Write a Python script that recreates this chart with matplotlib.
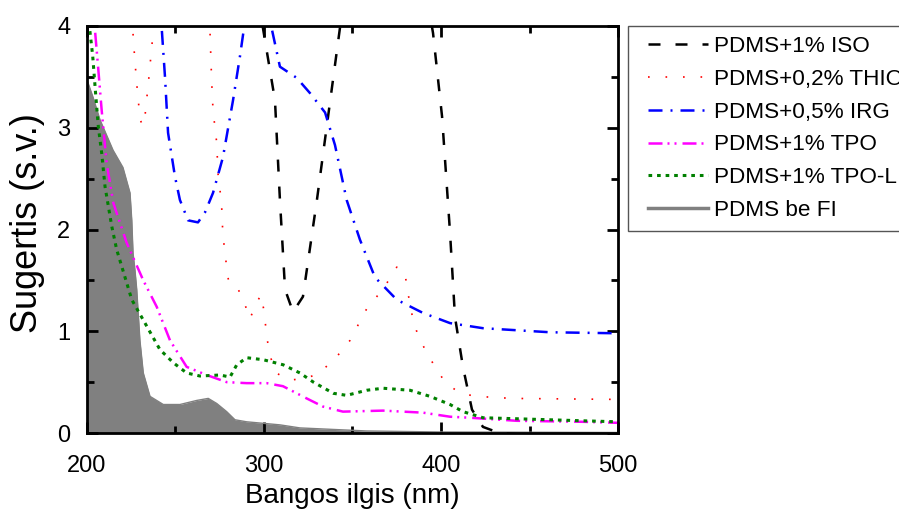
import matplotlib
matplotlib.use("Agg")
import matplotlib.pyplot as plt
from matplotlib.lines import Line2D
from matplotlib.legend_handler import HandlerLine2D

plt.rcParams["font.family"] = ["Liberation Sans", "DejaVu Sans"]

# PDMS+1% ISO
x_iso = [200, 250, 290, 297, 299.4, 306.2, 309, 311.9, 316.4, 322, 329.9, 336.2, 342.9,
         350, 370, 390, 395.5, 400.6, 405.1, 407.9, 412.4, 417.5, 423.7, 433, 450, 500]
y_iso = [6, 6, 5, 4.25, 3.98, 3.27, 2.29, 1.41, 1.19, 1.34, 2.29, 3.11, 3.98,
         4.6, 5.0, 4.5, 3.93, 3.11, 1.97, 1.14, 0.65, 0.23, 0.06, 0.0, -0.02, -0.03]

# PDMS+0,2% THIO
x_thio = [200, 220, 225.5, 226.2, 228, 230, 231.5, 232.8, 235, 237.1, 238, 245, 262, 268.5,
          269.5, 270.4, 271.2, 273.3, 274, 276, 276.8, 278, 278.9, 280.2, 285.5, 289.3, 292,
          295.3, 298.3, 300, 301, 302.1, 304, 306.8, 314.7, 324.9, 332.6, 341.1, 348.6,
          353.1, 358, 363.7, 369.3, 375, 379.7, 380.6, 382.5, 384.2, 387, 391, 396.6,
          402.3, 410.7, 420.2, 440, 500]
y_thio = [5, 5, 4.1, 3.86, 3.45, 3.08, 3.02, 3.12, 3.5, 3.89, 4.1, 5, 5, 4.1,
          3.94, 3.47, 3.17, 2.85, 2.55, 2.26, 1.93, 1.78, 1.62, 1.47, 1.41, 1.26, 1.12,
          1.26, 1.36, 1.20, 1.04, 0.89, 0.73, 0.59, 0.52, 0.54, 0.61, 0.75, 0.91,
          1.06, 1.22, 1.34, 1.47, 1.63, 1.58, 1.44, 1.27, 1.11, 0.96, 0.82, 0.65,
          0.50, 0.39, 0.36, 0.34, 0.33]

# PDMS+0,5% IRG
x_irg = [200, 235, 241, 242.2, 244.1, 245.8, 249.7, 252.5, 257.1, 262.7, 266.7, 271.2, 276.8,
         282.5, 286.4, 288.7, 291, 300, 304.3, 309, 318.5, 326, 334.5, 340.1, 346.7, 354.2,
         362.7, 375, 389.8, 405.1, 423.7, 461.6, 500]
y_irg = [6, 6, 4.3, 3.98, 3.49, 2.95, 2.52, 2.29, 2.09, 2.07, 2.17, 2.36, 2.71,
         3.27, 3.70, 3.98, 4.25, 4.5, 3.98, 3.6, 3.49, 3.34, 3.15, 2.83, 2.29, 1.90,
         1.53, 1.31, 1.18, 1.08, 1.03, 0.99, 0.98]

# PDMS+1% TPO
x_tpo = [200, 204.5, 206.4, 208.3, 211.1, 214.9, 222.4, 231.8, 239.4, 246.9, 256.3, 267.6,
         278.9, 290.2, 301.5, 310.7, 324.1, 333.3, 344.6, 367.2, 389.8, 405.1, 416.4, 442.8,
         480.2, 500]
y_tpo = [4.6, 3.96, 3.57, 3.17, 2.65, 2.26, 1.87, 1.50, 1.24, 0.91, 0.65, 0.57,
         0.50, 0.49, 0.49, 0.46, 0.34, 0.26, 0.21, 0.22, 0.20, 0.16, 0.15, 0.12,
         0.11, 0.10]

# PDMS+1% TPO-L
x_tpol = [200, 201.7, 203.2, 204.8, 206.4, 208.3, 210.2, 214, 216.8, 225.3, 231.8, 241.2,
          248.8, 256.3, 263.8, 275.1, 280.8, 284.6, 290.2, 299.6, 310.9, 320.3, 327.9, 339.2,
          346.7, 358, 367.2, 382.5, 393.8, 405.1, 412.4, 423.7, 442.8, 480.2, 500]
y_tpol = [4.2, 3.94, 3.71, 3.35, 3.01, 2.75, 2.42, 2.03, 1.80, 1.31, 1.11, 0.82,
          0.69, 0.59, 0.56, 0.57, 0.55, 0.67, 0.74, 0.72, 0.67, 0.59, 0.50, 0.39,
          0.37, 0.42, 0.44, 0.42, 0.36, 0.28, 0.21, 0.15, 0.14, 0.12, 0.11]

# PDMS be FI
x_pdms = [200, 203.4, 207.3, 214.7, 220.3, 224.3, 225.3, 226, 227.1, 228.1, 229.9, 231.8,
          235.6, 243.1, 252.5, 262, 268.5, 273.3, 278.9, 283.6, 290.2, 299.6, 309, 320.3,
          358, 400, 500]
y_pdms = [3.47, 3.30, 3.08, 2.78, 2.61, 2.36, 2.09, 1.77, 1.60, 1.41, 0.91, 0.59,
          0.36, 0.28, 0.28, 0.32, 0.34, 0.29, 0.21, 0.13, 0.11, 0.095, 0.08, 0.05,
          0.02, 0.01, 0.005]

labels = ["PDMS+1% ISO", "PDMS+0,2% THIO", "PDMS+0,5% IRG",
          "PDMS+1% TPO", "PDMS+1% TPO-L", "PDMS be FI"]

styles = [
    dict(color="black", lw=1.8, linestyle=(0, (4.8, 6))),
    dict(color="red", lw=1.2, linestyle=(0, (1, 9.5))),
    dict(color="blue", lw=1.8, linestyle=(0, (5.6, 3.2, 0.8, 3.2))),
    dict(color="magenta", lw=1.8, linestyle=(0, (5.6, 2, 0.8, 2, 0.8, 2.4))),
    dict(color="green", lw=2.2, linestyle=(0, (1.2, 1.6))),
    dict(color="#808080", lw=2.5),
]


class PaddedLine(HandlerLine2D):
    # leaves some blank space before the legend line
    def create_artists(self, legend, orig_handle, xdescent, ydescent, width, height,
                       fontsize, trans):
        pad = 0.45 * fontsize
        return super().create_artists(legend, orig_handle, xdescent - pad, ydescent,
                                      width - pad, height, fontsize, trans)


fig = plt.figure(figsize=(8.99, 5.15), dpi=100)
ax = fig.add_axes([87 / 899, 1 - 433 / 515, 531 / 899, 407 / 515])

ax.fill_between(x_pdms, y_pdms, 0, color="#808080", lw=0)
ax.plot(x_pdms, y_pdms, color="#808080", lw=1)

ax.plot(x_iso, y_iso, **styles[0])
ax.plot(x_thio, y_thio, **styles[1])
ax.plot(x_irg, y_irg, **styles[2])
ax.plot(x_tpo, y_tpo, **styles[3])
ax.plot(x_tpol, y_tpol, **styles[4])

ax.set_xlim(200, 500)
ax.set_ylim(0, 4)
ax.set_xticks([200, 300, 400, 500])
ax.set_xticks([250, 350, 450], minor=True)
ax.set_yticks([0, 1, 2, 3, 4])
ax.set_yticks([0.5, 1.5, 2.5, 3.5], minor=True)
ax.tick_params(which="both", direction="in", top=True, right=True, width=2,
               labelsize=17)
ax.tick_params(axis="x", pad=16)
ax.tick_params(axis="y", pad=12)
ax.tick_params(which="major", length=8)
ax.tick_params(which="minor", length=5)
for s in ax.spines.values():
    s.set_linewidth(2)

ax.set_xlabel("Bangos ilgis (nm)", fontsize=20, labelpad=4)
ax.set_ylabel("Sugertis (s.v.)", fontsize=26)
ax.yaxis.set_label_coords(-0.08, 0.515)

handles = [Line2D([], [], **st) for st in styles]
leg = ax.legend(handles, labels, loc="upper left", bbox_to_anchor=(628 / 899, 1 - 26 / 515),
                bbox_transform=fig.transFigure, borderaxespad=0, fontsize=16.2,
                handlelength=3.1, handletextpad=0.27, labelspacing=0.52,
                borderpad=0.46, fancybox=False, framealpha=1,
                handler_map={Line2D: PaddedLine()})
leg.get_frame().set_edgecolor("#555555")
leg.get_frame().set_linewidth(1)

fig.savefig("out.png", dpi=100)
